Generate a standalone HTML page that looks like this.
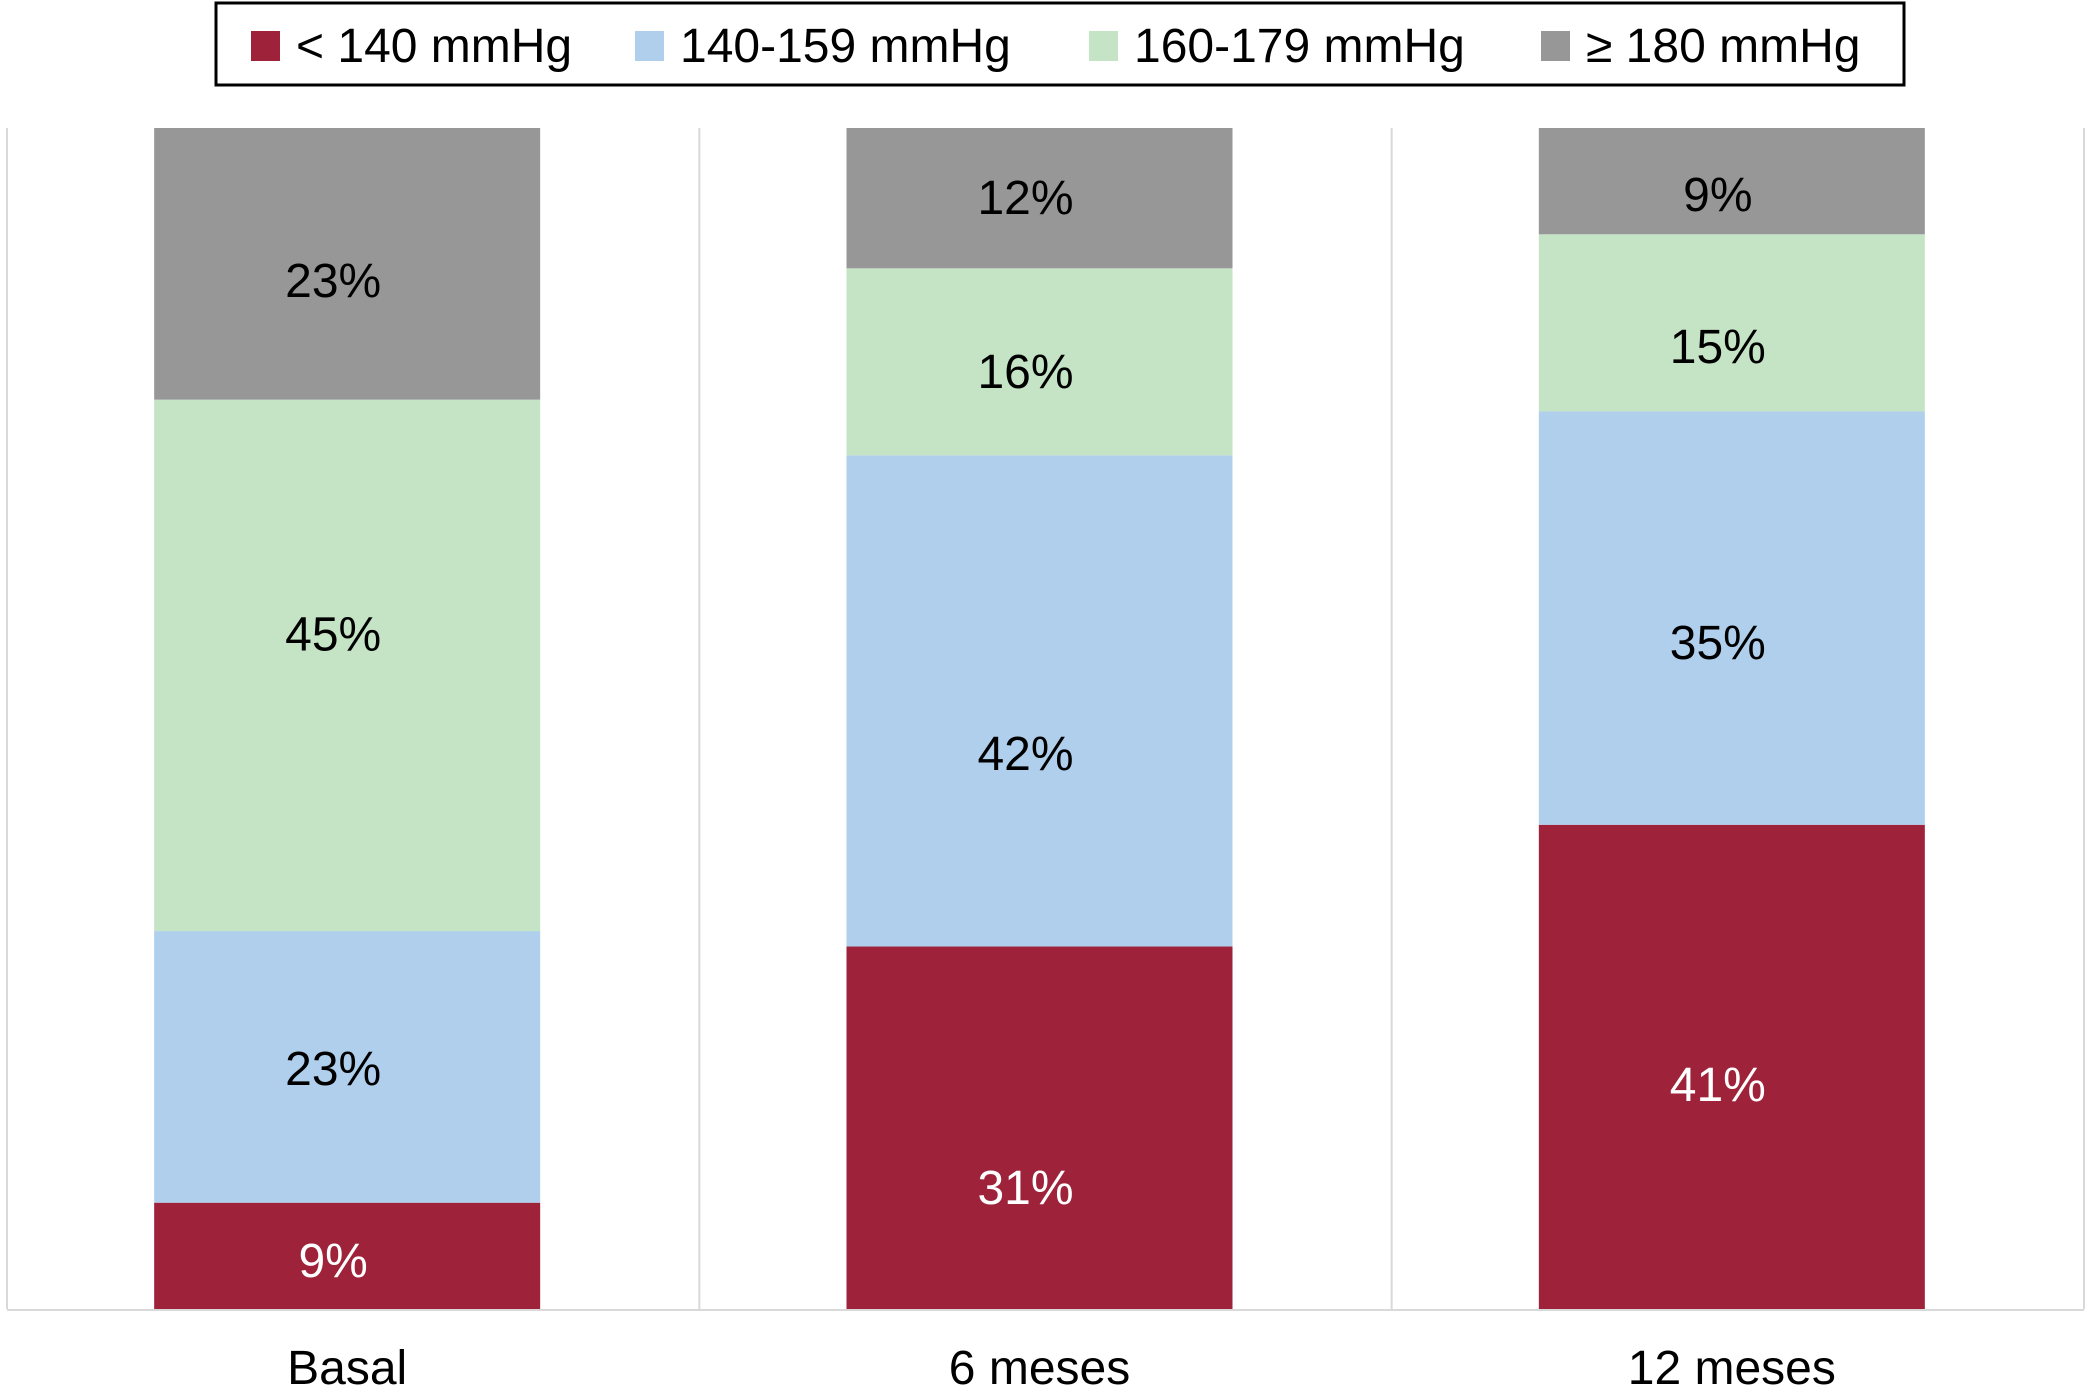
<!DOCTYPE html>
<html><head><meta charset="utf-8"><style>
html,body{margin:0;padding:0;background:#fff;}
svg{display:block;font-family:"Liberation Sans",Arial,sans-serif;}
</style></head><body>
<svg id="chart" width="2091" height="1394"></svg>
<script>
const categories = ["Basal", "6 meses", "12 meses"];
const seriesNames = ["< 140 mmHg", "140-159 mmHg", "160-179 mmHg", "≥ 180 mmHg"];
const seriesColors = ["#9e2239", "#afcfed", "#c4e4c5", "#979797"];
const labelColors = ["#ffffff", "#000000", "#000000", "#000000"];
const s1 = [9, 31, 41];
const s2 = [23, 42, 35];
const s3 = [45, 16, 15];
const s4 = [23, 12, 9];
const series = [s1, s2, s3, s4];
// label vertical nudges (px) to mimic the source's label placement, per series per category
const labelNudge = [[4, 59, 17], [1, 52, 24], [-32, 9, 23], [16, -1, 13]];

const NS = "http://www.w3.org/2000/svg";
const svg = document.getElementById("chart");
function mk(tag, attrs, parent) {
  const e = document.createElementNS(NS, tag);
  for (const k in attrs) e.setAttribute(k, attrs[k]);
  (parent || svg).appendChild(e);
  return e;
}
const plotL = 7, plotR = 2084, baseY = 1309, topY = 128;
const slotW = (plotR - plotL) / categories.length;
const barW = 386;
function xCenter(i) { return plotL + slotW * (i + 0.5) - 6; }
function yScale(frac) { return baseY - frac * (baseY - topY); }

for (let i = 0; i <= categories.length; i++) {
  const g = mk("line", {x1: plotL + slotW * i, x2: plotL + slotW * i, y1: topY, y2: baseY, stroke: "#d9d9d9", "stroke-width": 2});
  
  
}
const ax = mk("line", {x1: plotL, x2: plotR, y1: baseY + 1, y2: baseY + 1, stroke: "#d9d9d9", "stroke-width": 2});



categories.forEach((c, i) => {
  let total = 0;
  series.forEach(s => total += s[i]);
  let cum = 0;
  const cx = xCenter(i);
  series.forEach((s, k) => {
    const y0 = yScale(cum / total), y1 = yScale((cum + s[i]) / total);
    cum += s[i];
    const r = mk("rect", {x: cx - barW / 2, y: y1, width: barW, height: y0 - y1, fill: seriesColors[k]});
    
    
    const t = mk("text", {x: cx - 14, y: (y0 + y1) / 2 + 17 + labelNudge[k][i], "text-anchor": "middle", "font-size": 48, fill: labelColors[k]});
    t.textContent = s[i] + "%";
    
    
  });
  const cl = mk("text", {x: cx, y: 1384, "text-anchor": "middle", "font-size": 48, fill: "#000"});
  cl.textContent = c;
  
  
});

const lg = mk("g", {});


const box = mk("rect", {x: 216, y: 3, width: 1688, height: 82, fill: "#fff", stroke: "#000", "stroke-width": 3}, lg);


const swX = [251, 635, 1089, 1541];
seriesNames.forEach((n, k) => {
  const sw = mk("rect", {x: swX[k], y: 31, width: 29, height: 30, fill: seriesColors[k]}, lg);
  
  
  const t = mk("text", {x: swX[k] + 45, y: 62, "font-size": 48, fill: "#000"}, lg);
  t.textContent = n;
  
  
});
</script>
</body></html>
